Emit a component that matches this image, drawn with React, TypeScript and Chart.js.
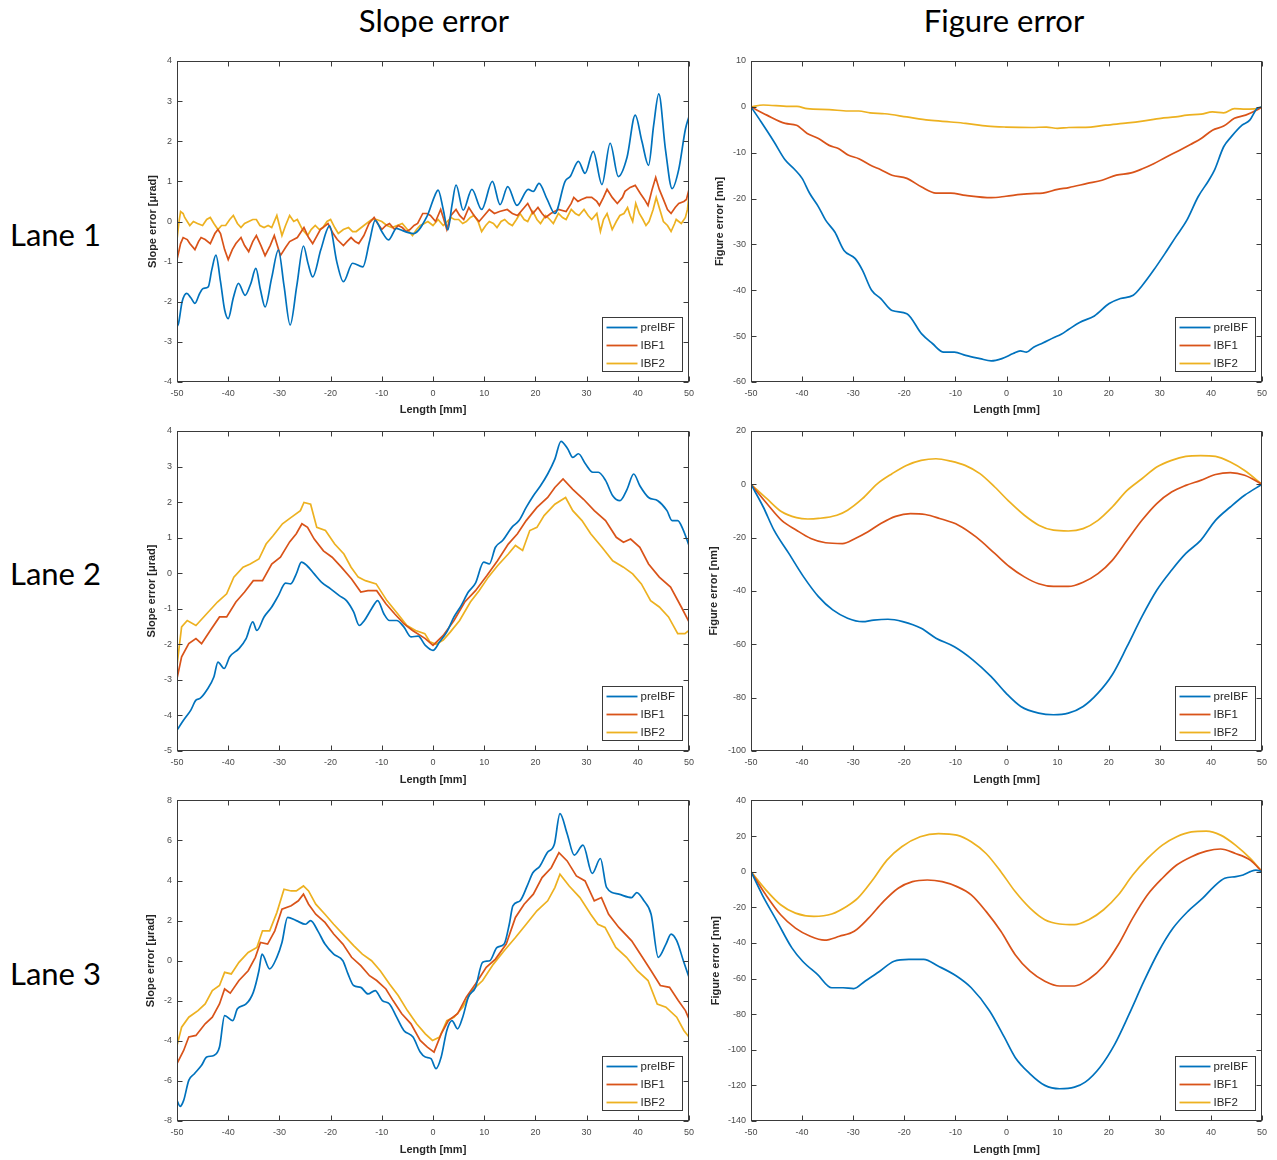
import React, { useEffect, useRef } from "react";
import { Chart, registerables } from "chart.js";

Chart.register(...registerables);

type Pt = [number, number];

// ---- labels, ranges ----
const SERIES_LABELS = ["preIBF", "IBF1", "IBF2"];
const SERIES_COLORS = ["#0072BD", "#D95319", "#EDB120"];
const COLUMN_TITLES = ["Slope error", "Figure error"];
const ROW_TITLES = ["Lane 1", "Lane 2", "Lane 3"];
const X_TITLE = "Length [mm]";
const SLOPE_Y_TITLE = "Slope error [μrad]";
const FIGURE_Y_TITLE = "Figure error [nm]";
const X_MIN = -50;
const X_MAX = 50;
const X_STEP = 10;
// [min, max, step]
const SLOPE_Y_RANGES = [[-4, 4, 1], [-5, 4, 1], [-8, 8, 2]];
const FIGURE_Y_RANGES = [[-60, 10, 10], [-100, 20, 20], [-140, 40, 20]];

// ---- Lane 1, slope error [µrad] vs length [mm] ----
const lane1SlopePre: Pt[] = [[-50,-2.62],[-49.7,-2.54],[-49,-2.0],[-48.1,-1.79],[-47.3,-1.9],[-46.5,-2.04],[-45.6,-1.8],[-44.9,-1.67],[-43.9,-1.63],[-43.2,-1.2],[-42.4,-0.84],[-41.5,-1.5],[-40.7,-2.2],[-40,-2.42],[-39,-1.9],[-38,-1.54],[-36.7,-1.84],[-35.6,-1.55],[-34.6,-1.17],[-33.7,-1.7],[-32.8,-2.13],[-31.5,-1.4],[-30.2,-0.71],[-29.1,-1.6],[-27.9,-2.58],[-26.6,-1.6],[-25.3,-0.61],[-24.4,-1.05],[-23.5,-1.38],[-21.9,-0.7],[-20.2,-0.11],[-18.8,-1.0],[-17.5,-1.5],[-15.7,-1.04],[-13.7,-1.13],[-12.4,-0.5],[-11.3,0.03],[-10,-0.25],[-8.7,-0.46],[-7.1,-0.17],[-6.5,-0.2],[-3.8,-0.3],[-1.2,0.12],[0.4,0.66],[1.0,0.78],[2.0,0.3],[2.9,-0.21],[3.7,0.4],[4.5,0.91],[5.9,0.28],[7.6,0.8],[9.5,0.3],[11.6,1.0],[13.1,0.42],[14.6,0.87],[16.4,0.4],[18.6,0.8],[19.6,0.75],[20.7,0.95],[22.3,0.55],[23.8,0.2],[25.8,1.0],[26.8,1.12],[28.4,1.5],[29.7,1.2],[31.3,1.75],[33,0.92],[34.6,1.95],[36.2,1.12],[37.9,1.6],[39.5,2.65],[40.8,2.0],[42.1,1.4],[43.1,2.4],[44.1,3.18],[45.4,1.8],[46.7,0.82],[48,1.3],[49.3,2.3],[50,2.62]];
const lane1SlopeIbf1: Pt[] = [[-50,-0.95],[-49.3,-0.55],[-48.8,-0.4],[-48,-0.45],[-47.5,-0.55],[-46.5,-0.7],[-45.8,-0.5],[-45.3,-0.4],[-44.5,-0.45],[-43.5,-0.55],[-42.6,-0.3],[-42,-0.2],[-41.5,-0.3],[-40.7,-0.7],[-40,-0.95],[-39.2,-0.7],[-38.5,-0.55],[-37.5,-0.4],[-36.8,-0.6],[-36,-0.75],[-35.2,-0.5],[-34.5,-0.35],[-33.6,-0.6],[-32.8,-0.85],[-31.8,-0.6],[-31,-0.35],[-30.4,-0.6],[-29.8,-0.85],[-28.8,-0.65],[-28,-0.5],[-26.5,-0.4],[-25.2,-0.15],[-24.3,-0.4],[-23.5,-0.55],[-22,-0.2],[-20.5,-0.05],[-19.5,-0.3],[-18.7,-0.45],[-17.5,-0.6],[-16.8,-0.5],[-16,-0.4],[-15.2,-0.5],[-14.5,-0.55],[-13.5,-0.35],[-12.5,-0.05],[-11.5,0.1],[-10.8,-0.05],[-10,-0.2],[-9.2,-0.1],[-8.5,-0.05],[-7.5,-0.2],[-6.8,-0.1],[-6,-0.15],[-5.2,-0.25],[-4.5,-0.2],[-3.7,-0.1],[-3,-0.05],[-2,0.2],[-1.2,0.2],[-0.5,0.15],[0.5,0.0],[1.5,0.3],[2,0.1],[2.7,-0.2],[3.5,0.15],[4.5,0.3],[5.2,0.15],[6,0.05],[7,0.35],[8,0.15],[9,0.0],[10,0.15],[11,0.3],[12,0.2],[13,0.25],[14.5,0.3],[15.5,0.2],[16.5,0.15],[17.5,0.3],[18.5,0.45],[19.5,0.2],[20.5,0.35],[21.3,0.2],[22,0.1],[23,0.2],[24.5,0.3],[26,0.25],[27,0.45],[27.5,0.6],[28.3,0.5],[29,0.55],[30,0.6],[31,0.6],[32,0.5],[32.5,0.4],[33.3,0.6],[34,0.8],[35,0.6],[36,0.45],[37,0.6],[37.5,0.75],[38.5,0.85],[39.5,0.9],[40.5,0.7],[41.3,0.55],[42,0.4],[42.8,0.8],[43.5,1.1],[44.2,0.8],[45,0.55],[45.8,0.3],[46.5,0.2],[47.3,0.35],[48,0.45],[49,0.5],[49.5,0.55],[50,0.8]];
const lane1SlopeIbf2: Pt[] = [[-50,-0.45],[-49.6,0.0],[-49.3,0.25],[-48.8,0.2],[-48.5,0.1],[-47.5,-0.1],[-46.8,0.0],[-46,-0.05],[-45,-0.1],[-44.2,0.05],[-43.5,0.1],[-42.8,-0.05],[-42,-0.2],[-41.3,-0.1],[-40.5,-0.1],[-39.7,0.05],[-39,0.15],[-38.2,-0.05],[-37.5,-0.15],[-36.8,-0.05],[-36,0.0],[-35.2,0.05],[-34.5,0.05],[-33.8,-0.1],[-33,-0.15],[-32.2,-0.1],[-31.5,-0.15],[-30.5,0.15],[-29.5,-0.35],[-28.8,-0.1],[-28,0.15],[-27.2,0.0],[-26.5,0.05],[-25.5,-0.2],[-24.5,-0.35],[-23.8,-0.2],[-23,-0.1],[-22.2,-0.2],[-21.5,-0.15],[-20.7,0.0],[-20,0.05],[-19.2,-0.15],[-18.5,-0.3],[-17.5,-0.2],[-16.5,-0.15],[-15.7,-0.25],[-15,-0.25],[-13.5,-0.1],[-12,0.05],[-11,0.05],[-10,0.0],[-9,-0.1],[-8,-0.15],[-7,-0.1],[-6,-0.05],[-5,-0.2],[-4,-0.35],[-3.2,-0.2],[-2.5,-0.1],[-1.7,-0.05],[-1,0.0],[0,-0.1],[1,0.05],[2,-0.1],[2.8,0.0],[3.5,0.1],[4.2,0.05],[5,0.05],[5.8,-0.05],[6.5,0.0],[7.3,0.1],[8,0.15],[8.8,0.0],[9.5,-0.25],[10.3,-0.1],[11,0.0],[11.8,-0.05],[12.5,-0.15],[13.3,0.0],[14,0.05],[14.8,-0.05],[15.5,-0.1],[16.3,0.05],[17,0.2],[17.8,0.05],[18.5,0.0],[19.5,0.25],[20.3,0.05],[21,-0.05],[22,0.15],[22.8,0.05],[23.5,-0.05],[24.5,0.2],[25.3,0.1],[26,0.05],[27,0.3],[27.8,0.2],[28.5,0.15],[29.5,0.3],[30.3,0.15],[31,0.05],[32,0.2],[32.7,-0.25],[33.3,0.05],[34,0.2],[34.5,0.0],[35,-0.2],[35.8,0.0],[36.5,0.15],[37.3,0.2],[38,0.35],[38.5,0.15],[39,0.0],[39.6,0.45],[40.3,0.2],[41,0.05],[41.6,-0.1],[42.2,0.0],[43,0.3],[43.6,0.6],[44.3,0.3],[45,0.0],[45.8,-0.1],[46.5,-0.25],[47.2,-0.05],[47.5,0.05],[48,0.0],[48.5,-0.05],[49.3,0.1],[49.7,0.3],[50,0.65]];

// ---- Lane 1, figure error [nm] ----
const lane1FigurePre: Pt[] = [[-50,0],[-48,-3.3],[-45.5,-7.6],[-43.3,-11.6],[-41.5,-13.6],[-40,-15.6],[-38.5,-18.9],[-36.8,-21.8],[-35.4,-24.7],[-33.6,-27.3],[-31.8,-31.3],[-29.6,-33.1],[-28.2,-35.6],[-26.4,-40.0],[-24.6,-41.8],[-22.4,-44.4],[-19.5,-45.1],[-16.6,-49.5],[-14.5,-51.6],[-12.3,-53.5],[-10.2,-53.5],[-8,-54.2],[-5.2,-54.9],[-3,-55.4],[-0.9,-54.9],[1.3,-53.8],[2.7,-53.2],[3.9,-53.5],[5.3,-52.4],[7.1,-51.5],[9.3,-50.3],[10.7,-49.6],[12.2,-48.5],[14.3,-47.0],[17.2,-45.6],[20.1,-42.9],[22.3,-41.8],[24.8,-41.1],[26.6,-38.9],[28.8,-35.6],[31,-32.0],[33.1,-28.4],[35.3,-24.7],[37.5,-19.6],[39.6,-16.0],[40.7,-13.8],[42.5,-8.7],[44,-6.5],[46.1,-4.0],[47.6,-2.9],[49,-0.4],[50,0]];
const lane1FigureIbf1: Pt[] = [[-50,0],[-46.9,-1.8],[-43.3,-3.6],[-41.1,-4.0],[-39,-5.8],[-36.8,-6.9],[-34.7,-8.4],[-32.9,-9.1],[-31,-10.5],[-28.9,-11.3],[-26.7,-12.7],[-24.6,-13.7],[-22.4,-14.9],[-19.5,-15.6],[-16.6,-17.5],[-13.8,-18.8],[-10.9,-18.8],[-8,-19.3],[-3,-19.8],[-0.1,-19.5],[2.8,-19.1],[4.9,-18.9],[7.1,-18.8],[10,-18.0],[12.2,-17.6],[15.8,-16.7],[18.7,-16.0],[21.5,-14.9],[24.4,-14.4],[26.6,-13.5],[28.8,-12.4],[31,-11.1],[33.8,-9.5],[36,-8.2],[38.1,-6.9],[40.3,-5.1],[42.5,-4.2],[44.6,-2.5],[46.8,-1.8],[49,-0.7],[50,0]];
const lane1FigureIbf2: Pt[] = [[-50,0],[-47.6,0.4],[-42.6,0.1],[-41,0.1],[-39,-0.4],[-34.7,-0.6],[-31,-0.9],[-28.9,-0.9],[-26.7,-1.3],[-23.8,-1.5],[-19.5,-2.2],[-15.2,-2.9],[-10.9,-3.3],[-8,-3.6],[-3.7,-4.2],[-0.1,-4.4],[4.9,-4.5],[7.8,-4.4],[10,-4.7],[12.2,-4.5],[16.5,-4.4],[19.4,-4.0],[23.7,-3.5],[26.6,-3.1],[30.2,-2.5],[33.1,-2.2],[35.3,-1.8],[38.1,-1.6],[40.3,-1.1],[42.5,-1.3],[44.6,-0.4],[46.8,-0.5],[49,-0.4],[50,0]];

// ---- Lane 2, slope error [µrad] ----
const lane2SlopePre: Pt[] = [[-50,-4.41],[-48.7,-4.13],[-47.3,-3.85],[-46.3,-3.57],[-45.5,-3.52],[-44.2,-3.29],[-42.8,-2.92],[-42,-2.5],[-40.8,-2.68],[-39.7,-2.35],[-37.9,-2.12],[-36.5,-1.84],[-35.2,-1.37],[-34.4,-1.61],[-33,-1.23],[-31.5,-0.95],[-30.2,-0.63],[-28.8,-0.28],[-27.8,-0.3],[-26.7,-0.02],[-25.7,0.31],[-24.6,0.21],[-23.2,-0.02],[-21.8,-0.25],[-20,-0.44],[-18.3,-0.63],[-16.9,-0.77],[-15.5,-1.09],[-14.4,-1.47],[-13.4,-1.33],[-12,-1.0],[-10.8,-0.77],[-9.6,-1.14],[-8.5,-1.33],[-7.1,-1.33],[-5.7,-1.51],[-4.3,-1.79],[-2.9,-1.77],[-1.5,-2.03],[0,-2.17],[1.3,-1.93],[2.7,-1.65],[4.1,-1.23],[5.5,-0.91],[6.9,-0.53],[8.3,-0.28],[9.9,0.31],[11,0.26],[12.2,0.73],[13.6,0.92],[15.4,1.29],[16.8,1.48],[18.2,1.85],[19.6,2.18],[21,2.46],[22.4,2.79],[23.8,3.21],[25,3.71],[26.3,3.5],[27.3,3.26],[28.4,3.36],[29.8,3.07],[31.2,2.84],[32.3,2.84],[33.7,2.61],[35.1,2.18],[36.5,2.04],[37.9,2.36],[39.2,2.79],[40.4,2.46],[42.1,2.13],[43.9,2.04],[45.7,1.76],[46.7,1.48],[47.8,1.48],[48.8,1.24],[50,0.78]];
const lane2SlopeIbf1: Pt[] = [[-50,-2.96],[-49.1,-2.35],[-47.7,-1.98],[-46.3,-1.84],[-45.2,-1.98],[-43.5,-1.61],[-41.7,-1.23],[-40.3,-1.23],[-38.5,-0.81],[-36.8,-0.53],[-35.1,-0.21],[-33.3,-0.21],[-31.5,0.26],[-29.8,0.45],[-28,0.88],[-26.7,1.11],[-25.6,1.39],[-24.5,1.29],[-23.2,0.96],[-21.4,0.63],[-19.7,0.45],[-17.9,0.17],[-15.9,-0.16],[-14.1,-0.53],[-12.7,-0.49],[-11,-0.49],[-9.2,-0.86],[-7.5,-1.14],[-5.7,-1.42],[-4,-1.61],[-1.5,-1.84],[0,-2.03],[2,-1.75],[4.1,-1.33],[6.2,-0.81],[8.3,-0.49],[10.5,-0.07],[12.6,0.35],[14.7,0.82],[16.5,1.11],[18.2,1.48],[20.3,1.85],[22.4,2.13],[23.8,2.41],[25.4,2.65],[27.3,2.36],[29.4,2.08],[31.5,1.76],[33.7,1.48],[35.8,1.01],[37.2,0.87],[38.6,0.96],[40.4,0.73],[42.1,0.26],[44.2,-0.11],[46.4,-0.39],[48.5,-0.95],[50,-1.37]];
const lane2SlopeIbf2: Pt[] = [[-50,-2.59],[-49.1,-1.51],[-48,-1.33],[-46.3,-1.47],[-44.2,-1.14],[-42.1,-0.81],[-40.3,-0.58],[-38.9,-0.11],[-37.1,0.17],[-35.7,0.26],[-34,0.4],[-32.6,0.82],[-31.2,1.06],[-29.4,1.39],[-27.7,1.57],[-25.9,1.76],[-25.2,1.99],[-23.9,1.94],[-22.7,1.29],[-21,1.2],[-19.2,0.82],[-17.4,0.54],[-16,0.17],[-14.6,-0.11],[-13.2,-0.21],[-11.1,-0.3],[-9,-0.77],[-6.9,-1.14],[-5.1,-1.47],[-3.4,-1.61],[-1.6,-1.7],[-0.6,-1.93],[0.6,-2.0],[2,-1.88],[3.4,-1.65],[5.2,-1.33],[7.3,-0.81],[9,-0.49],[10.8,-0.11],[12.6,0.21],[14.7,0.54],[16.1,0.78],[17.5,0.64],[18.9,1.2],[20.3,1.29],[21.7,1.62],[23.8,1.94],[25.9,2.13],[27.3,1.76],[29.1,1.48],[30.8,1.11],[33,0.73],[35.1,0.35],[37.2,0.17],[39,-0.02],[40.7,-0.3],[42.5,-0.77],[44.2,-0.95],[46,-1.23],[47.8,-1.7],[49.2,-1.7],[50,-1.61]];

// ---- Lane 2, figure error [nm] ----
const lane2FigurePre: Pt[] = [[-50,0],[-47.6,-8.5],[-45.5,-17.2],[-42.6,-25.9],[-39.7,-34.7],[-36.8,-42.1],[-34,-47.1],[-31.1,-50.2],[-28.2,-51.5],[-26,-50.9],[-23.2,-50.6],[-20.3,-51.5],[-16.7,-54],[-13.8,-57.7],[-10.2,-60.9],[-6.6,-65.8],[-3,-72.1],[-0.1,-78.3],[2.8,-83.3],[6.3,-85.8],[9.2,-86.4],[12.1,-85.8],[15,-83.3],[17.9,-78.3],[20.7,-71.4],[23.6,-60.8],[26.5,-49.6],[29.4,-39.7],[32.3,-32.2],[35.1,-25.9],[38,-21],[40.9,-13.5],[43.8,-8.5],[46.6,-4.1],[50,0]];
const lane2FigureIbf1: Pt[] = [[-50,0],[-46.9,-7.2],[-44,-13.5],[-41.1,-17.2],[-38.3,-20.3],[-35.4,-21.9],[-32.1,-22.2],[-29.6,-20.3],[-27.1,-17.8],[-24.6,-14.7],[-21.7,-12],[-18.8,-11],[-15.9,-11.3],[-13.1,-12.8],[-9.4,-15.3],[-5.9,-19.8],[-2.3,-25.9],[0.6,-30.9],[3.5,-34.7],[6.3,-37.3],[9.2,-38.3],[12.1,-38.3],[15,-36.7],[17.9,-33.5],[20.7,-28.5],[23.6,-21],[26.5,-13.5],[29.4,-7.2],[32.3,-2.9],[35.1,-0.4],[38,1.5],[40.9,3.7],[43.8,4.4],[46.6,3.4],[50,0]];
const lane2FigureIbf2: Pt[] = [[-50,0],[-46.9,-5.4],[-44,-10.3],[-41.1,-12.5],[-38.9,-13],[-36.8,-12.8],[-33.2,-11.6],[-31.1,-9.7],[-28.2,-5.4],[-25.3,0.2],[-22.4,4],[-19.6,7.1],[-16.7,9],[-13.8,9.6],[-10.9,8.7],[-8.1,7.1],[-5.2,4],[-2.3,-1],[0.6,-6.6],[3.5,-11.6],[6.3,-15.3],[9.2,-17.2],[12.1,-17.5],[15,-16.6],[17.9,-13.5],[20.7,-8.5],[23.6,-2.3],[26.5,2.1],[29.4,6.5],[32.3,9],[35.1,10.5],[38,10.8],[40.9,10.5],[43.8,8.4],[46.6,5.2],[50,0]];

// ---- Lane 3, slope error [µrad] ----
const lane3SlopePre: Pt[] = [[-50,-6.97],[-49.4,-7.27],[-48.7,-6.97],[-47.7,-5.97],[-46.6,-5.64],[-45.2,-5.22],[-44.2,-4.81],[-42.8,-4.73],[-41.7,-4.31],[-40.7,-2.74],[-39.1,-2.99],[-38.2,-2.4],[-36.5,-2.16],[-35.1,-1.58],[-34,-0.5],[-33.4,0.33],[-31.9,-0.41],[-30.5,0.17],[-29.5,0.91],[-28.4,2.16],[-26.7,2.0],[-24.9,1.82],[-23.9,2.0],[-22.5,1.49],[-21.1,0.83],[-19.4,0.33],[-17.6,0],[-16.6,-0.66],[-15.5,-1.24],[-14.1,-1.33],[-12.7,-1.66],[-11.3,-1.49],[-9.9,-1.99],[-8.5,-2.16],[-7.1,-2.82],[-5.7,-3.48],[-3.9,-3.81],[-2.5,-4.56],[-1.5,-4.81],[-0.4,-4.89],[0.6,-5.39],[1.6,-4.81],[2.7,-3.48],[3.7,-2.99],[4.8,-3.4],[5.8,-2.82],[6.9,-1.82],[8.3,-1.33],[9.7,-0.08],[11.1,0],[12.5,0.66],[13.9,0.83],[14.9,1.82],[15.6,2.74],[17,2.99],[18.4,3.73],[19.5,4.39],[20.9,4.73],[22.3,5.39],[23.7,5.81],[24.8,7.34],[26.2,6.34],[27.6,5.27],[29.3,5.77],[31.1,4.36],[32.7,5.1],[33.9,3.66],[36.3,3.32],[38.8,3.15],[39.8,3.4],[41.2,2.99],[42.6,2.32],[44,0.17],[45.5,0.83],[46.5,1.33],[47.6,1.0],[48.9,0],[50,-0.83]];
const lane3SlopeIbf1: Pt[] = [[-50,-5.14],[-48.7,-4.48],[-47.7,-3.81],[-46.3,-3.73],[-44.5,-3.15],[-43.1,-2.82],[-41.7,-2.16],[-40.7,-1.41],[-39.6,-1.62],[-37.9,-0.99],[-36.1,-0.5],[-34.7,0.17],[-33.7,0.91],[-32.3,0.83],[-30.9,1.49],[-29.5,2.57],[-27.7,2.74],[-26.3,2.99],[-25.3,3.32],[-24.3,2.82],[-22.9,2.32],[-21.1,1.91],[-19.4,1.33],[-17.6,0.83],[-15.9,0.17],[-14.1,-0.25],[-12.4,-0.75],[-11,-0.99],[-9.2,-1.41],[-7.8,-1.99],[-6.1,-2.65],[-4.3,-3.15],[-2.5,-3.98],[-1.1,-4.31],[0.2,-4.56],[1.6,-3.65],[3,-2.99],[4.8,-2.65],[6.5,-1.82],[8.3,-1.16],[10.4,-0.33],[12.2,0.08],[14.3,0.83],[16.1,2.16],[17.8,2.82],[19.6,3.32],[21.3,4.15],[23.1,4.64],[24.6,5.39],[26.2,4.98],[28,4.23],[29.7,3.98],[31.5,2.99],[32.9,3.15],[34.3,2.32],[36.3,1.66],[38.8,0.99],[40.9,0.17],[42.6,-0.5],[44.4,-1.24],[46.2,-1.33],[47.9,-1.99],[49.3,-2.49],[50,-2.9]];
const lane3SlopeIbf2: Pt[] = [[-50,-4.23],[-49.1,-3.32],[-47.7,-2.82],[-45.9,-2.49],[-44.5,-2.16],[-43.1,-1.49],[-41.7,-1.24],[-40.7,-0.58],[-39.4,-0.66],[-37.9,-0.08],[-36.1,0.41],[-34.4,0.66],[-33.3,1.49],[-31.9,1.49],[-30.5,2.4],[-29.1,3.57],[-27.7,3.48],[-26.7,3.48],[-25.3,3.73],[-24.3,3.48],[-22.9,2.82],[-21.1,2.32],[-19.4,1.82],[-17.6,1.33],[-15.5,0.75],[-13.8,0.33],[-12,0],[-10.3,-0.5],[-8.5,-1.16],[-6.8,-1.74],[-5,-2.49],[-3.2,-3.15],[-1.5,-3.65],[-0.1,-3.98],[1.3,-3.81],[2.7,-2.99],[4.1,-2.82],[5.8,-2.32],[7.6,-1.49],[9.7,-0.99],[11.8,-0.17],[13.9,0.5],[16.1,1.16],[18.2,1.82],[20.3,2.49],[22.4,2.99],[23.8,3.65],[24.8,4.32],[26.6,3.73],[28.7,3.15],[30.8,2.32],[32.2,1.82],[33.6,1.66],[35.7,0.66],[37.8,0.17],[39.9,-0.5],[42,-0.99],[43.8,-2.16],[45.5,-2.32],[47.6,-2.82],[49,-3.48],[50,-3.81]];

// ---- Lane 3, figure error [nm] ----
const lane3FigurePre: Pt[] = [[-50,0],[-47.8,-13],[-44.9,-27.9],[-42,-42.8],[-39.9,-50.3],[-37,-57.7],[-34.2,-65.2],[-32,-65.2],[-29.9,-65.7],[-27.7,-61.5],[-24.8,-55.9],[-22,-50.3],[-19.1,-49.3],[-16.2,-49.3],[-13.4,-53],[-9.8,-58.6],[-6.9,-65.2],[-3.3,-78.2],[-0.4,-93.1],[1.7,-104.3],[4.6,-113.5],[7.5,-120],[10.4,-121.9],[13.3,-121],[15.4,-118.2],[18.3,-109.8],[21.2,-96.8],[24,-80],[26.9,-61.5],[29.8,-44.7],[32.6,-31.7],[35.5,-22.3],[38.4,-14.9],[40.6,-8.4],[42.7,-3.7],[44.9,-2.8],[46.3,-1.9],[47.7,0],[48.8,0.9],[50,0]];
const lane3FigureIbf1: Pt[] = [[-50,0],[-47.1,-13],[-44.2,-24.2],[-41.3,-31.7],[-38.4,-36.3],[-35.6,-38.5],[-32.7,-36.3],[-29.8,-33.5],[-27,-26.1],[-24.1,-16.8],[-21.2,-9.3],[-18.4,-5.6],[-15.5,-4.7],[-12.6,-5.6],[-9.7,-8.4],[-6.9,-13],[-4,-22.3],[-1.1,-33.5],[1.7,-46.6],[4.6,-55.9],[7.5,-61.5],[10.4,-64.2],[13.3,-64.2],[16.1,-60.4],[19,-53],[21.9,-40.9],[24.7,-26.1],[27.6,-13],[30.5,-3.7],[33.3,3.7],[36.2,8.4],[39.1,11.5],[41.9,12.7],[44.8,10.2],[47.7,6.5],[50,0]];
const lane3FigureIbf2: Pt[] = [[-50,0],[-47.1,-10.2],[-44.2,-18.6],[-41.3,-23.3],[-37.7,-25.1],[-34.2,-23.8],[-31.3,-19.6],[-29.1,-14.9],[-26.2,-4.7],[-23.4,6.5],[-20.5,14],[-16.9,19.6],[-13.3,21.4],[-9.7,20.5],[-6.9,16.8],[-4,10.2],[-1.1,0],[1.7,-11.2],[4.6,-20.5],[7.5,-27],[10.4,-29.4],[13.3,-29.8],[16.1,-27],[19,-21.4],[21.9,-13],[24.7,-1.9],[27.6,7.4],[30.5,14.9],[33.3,19.6],[36.2,22.3],[39.1,22.7],[41.9,20.5],[44.8,14.9],[47.7,7.4],[50,0]];

// ---- styling ----
const AXIS_COLOR = "#3a3a3a";
const TICK_LABEL_COLOR = "#4a4a4a";
const PLOT_FONT = '"Liberation Sans", Arial, Helvetica, sans-serif';
const HEADING_FONT = 'Lato, "Open Sans", "Liberation Sans", sans-serif';
const INNER_TICK = 5;

type PanelSpec = {
  left: number;
  top: number;
  width: number;
  height: number;
  padTop: number;
  padRight: number;
  yAxisW: number;
  xAxisH: number;
  yTitlePad: number;
  yTitle: string;
  yRange: number[];
  series: Pt[][];
  smooth: boolean[];
};

// Box frame with inward tick marks on all four sides, plus a legend in the lower right corner.
const frameAndLegend = {
  id: "frameAndLegend",
  afterDraw(chart: any) {
    const { ctx, chartArea: a, scales } = chart;
    const L = Math.round(a.left) + 0.5;
    const T = Math.round(a.top) + 0.5;
    const R = Math.round(a.right) - 0.5;
    const B = Math.round(a.bottom) - 0.5;
    ctx.save();
    ctx.strokeStyle = AXIS_COLOR;
    ctx.lineWidth = 1;
    ctx.strokeRect(L, T, R - L, B - T);
    ctx.beginPath();
    for (const t of scales.x.ticks) {
      const px = Math.round(scales.x.getPixelForValue(t.value)) + 0.5;
      ctx.moveTo(px, B); ctx.lineTo(px, B - INNER_TICK);
      ctx.moveTo(px, T); ctx.lineTo(px, T + INNER_TICK);
    }
    for (const t of scales.y.ticks) {
      const py = Math.round(scales.y.getPixelForValue(t.value)) + 0.5;
      ctx.moveTo(L, py); ctx.lineTo(L + INNER_TICK, py);
      ctx.moveTo(R, py); ctx.lineTo(R - INNER_TICK, py);
    }
    ctx.stroke();

    // legend
    const sets = chart.data.datasets;
    ctx.font = `11.5px ${PLOT_FONT}`;
    const textW = Math.max(...sets.map((d: any) => ctx.measureText(d.label).width));
    const lineLen = 31;
    const rowH = 18;
    const w = Math.round(4 + lineLen + 3 + textW + 7);
    const h = rowH * sets.length;
    const right = Math.round(a.right) - 6.5;
    const bottom = Math.round(a.bottom) - 10.5;
    const left = right - w;
    const top = bottom - h;
    ctx.fillStyle = "#ffffff";
    ctx.fillRect(left, top, w, h);
    ctx.strokeStyle = AXIS_COLOR;
    ctx.strokeRect(left, top, w, h);
    sets.forEach((d: any, i: number) => {
      const cy = top + 10 + i * rowH;
      ctx.strokeStyle = d.borderColor;
      ctx.lineWidth = 1.8;
      ctx.beginPath();
      ctx.moveTo(left + 4, cy);
      ctx.lineTo(left + 4 + lineLen, cy);
      ctx.stroke();
      ctx.fillStyle = "#262626";
      ctx.textBaseline = "middle";
      ctx.textAlign = "left";
      ctx.fillText(d.label, left + 4 + lineLen + 3, cy + 0.5);
    });
    ctx.restore();
  },
};

function buildConfig(p: PanelSpec): any {
  const [yMin, yMax, yStep] = p.yRange;
  const tickFont = { family: PLOT_FONT, size: 9 };
  const titleFont = { family: PLOT_FONT, size: 11, weight: "bold" as const };
  return {
    type: "line",
    data: {
      datasets: p.series.map((pts, i) => ({
        label: SERIES_LABELS[i],
        data: pts.map(([x, y]) => ({ x, y })),
        borderColor: SERIES_COLORS[i],
        backgroundColor: SERIES_COLORS[i],
        borderWidth: 1.7,
        pointRadius: 0,
        fill: false,
        tension: 0,
        cubicInterpolationMode: p.smooth[i] ? "monotone" : "default",
      })),
    },
    options: {
      responsive: false,
      animation: false,
      events: [],
      layout: { padding: { top: p.padTop, right: p.padRight, left: 0, bottom: 0 } },
      plugins: { legend: { display: false }, tooltip: { enabled: false } },
      scales: {
        x: {
          type: "linear",
          min: X_MIN,
          max: X_MAX,
          grid: { display: false, drawTicks: false },
          border: { display: false },
          ticks: { stepSize: X_STEP, padding: 6, font: tickFont, color: TICK_LABEL_COLOR, maxRotation: 0, autoSkip: false },
          title: { display: true, text: X_TITLE, font: titleFont, color: "#262626", padding: { top: 0, bottom: 3 } },
          afterFit: (s: any) => { s.height = p.xAxisH; },
        },
        y: {
          type: "linear",
          min: yMin,
          max: yMax,
          grid: { display: false, drawTicks: false },
          border: { display: false },
          ticks: { stepSize: yStep, padding: 5, font: tickFont, color: TICK_LABEL_COLOR, autoSkip: false },
          title: { display: true, text: p.yTitle, font: titleFont, color: "#262626", padding: { top: p.yTitlePad, bottom: 0 } },
          afterFit: (s: any) => { s.width = p.yAxisW; },
        },
      },
    },
    plugins: [frameAndLegend],
  };
}

function Panel({ spec }: { spec: PanelSpec }) {
  const ref = useRef<HTMLCanvasElement>(null);
  useEffect(() => {
    const chart = new Chart(ref.current as HTMLCanvasElement, buildConfig(spec));
    return () => chart.destroy();
  }, [spec]);
  return (
    <canvas
      ref={ref}
      width={spec.width}
      height={spec.height}
      style={{ position: "absolute", left: spec.left, top: spec.top, width: spec.width, height: spec.height }}
    />
  );
}

const ROW_TOPS = [50, 420, 790];
const ROW_PAD_TOP = [11, 11, 10];
const ROW_X_AXIS_H = [38, 39, 39];
const FIGURE_TITLE_PAD = [13, 7, 9];
const SLOPE_TITLE_PAD = [10, 9, 8];
const SLOPE_SERIES = [
  [lane1SlopePre, lane1SlopeIbf1, lane1SlopeIbf2],
  [lane2SlopePre, lane2SlopeIbf1, lane2SlopeIbf2],
  [lane3SlopePre, lane3SlopeIbf1, lane3SlopeIbf2],
];
const FIGURE_SERIES = [
  [lane1FigurePre, lane1FigureIbf1, lane1FigureIbf2],
  [lane2FigurePre, lane2FigureIbf1, lane2FigureIbf2],
  [lane3FigurePre, lane3FigureIbf1, lane3FigureIbf2],
];

const PANELS: PanelSpec[] = ROW_TOPS.flatMap((top, r) => [
  {
    left: 136, top, width: 564, height: 370,
    padTop: ROW_PAD_TOP[r], padRight: 11, yAxisW: 41, xAxisH: ROW_X_AXIS_H[r],
    yTitlePad: SLOPE_TITLE_PAD[r], yTitle: SLOPE_Y_TITLE, yRange: SLOPE_Y_RANGES[r],
    series: SLOPE_SERIES[r], smooth: [true, false, false],
  },
  {
    left: 700, top, width: 577, height: 370,
    padTop: ROW_PAD_TOP[r], padRight: 15, yAxisW: 51, xAxisH: ROW_X_AXIS_H[r],
    yTitlePad: FIGURE_TITLE_PAD[r], yTitle: FIGURE_Y_TITLE, yRange: FIGURE_Y_RANGES[r],
    series: FIGURE_SERIES[r], smooth: [true, true, true],
  },
]);

const COLUMN_CENTERS = [434, 1004];
const ROW_LABEL_CENTERS = [234, 573, 973];

export default function App() {
  return (
    <div style={{ position: "absolute", left: 0, top: 0, width: 1277, height: 1160, background: "#ffffff", overflow: "hidden" }}>
      {COLUMN_TITLES.map((t, i) => (
        <div
          key={t}
          style={{
            position: "absolute", left: COLUMN_CENTERS[i] - 200, top: 3, width: 400, textAlign: "center",
            fontFamily: HEADING_FONT, fontSize: 31, lineHeight: "34px", color: "#000",
          }}
        >
          {t}
        </div>
      ))}
      {ROW_TITLES.map((t, i) => (
        <div
          key={t}
          style={{
            position: "absolute", left: 10, top: ROW_LABEL_CENTERS[i] - 17, width: 120,
            fontFamily: HEADING_FONT, fontSize: 31, lineHeight: "34px", color: "#000", whiteSpace: "nowrap",
          }}
        >
          {t}
        </div>
      ))}
      {PANELS.map((p, i) => (
        <Panel key={i} spec={p} />
      ))}
    </div>
  );
}
